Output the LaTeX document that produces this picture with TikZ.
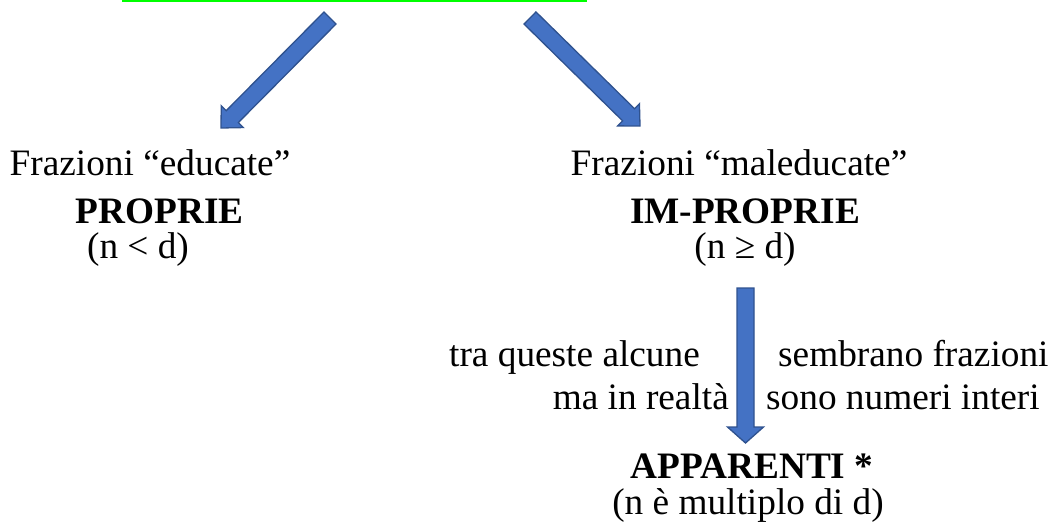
\documentclass[tikz,border=0pt]{standalone}
\usepackage{fontspec}
\setmainfont{Liberation Serif}
\usetikzlibrary{calc}
\definecolor{arrfill}{HTML}{4472C4}
\definecolor{arrline}{HTML}{2F528F}
\definecolor{hlgreen}{HTML}{00FF00}
\tikzset{
  txt/.style={anchor=base, inner sep=0pt, font=\fontsize{37.3}{44}\selectfont},
  btxt/.style={txt, font=\fontsize{37.3}{44}\selectfont\bfseries},
  fat/.style={fill=arrfill, draw=arrline, line width=1.3pt, line join=miter},
}
\newcommand\fatarrow[3]{%
  \coordinate (hb) at ($(#2)!16pt!(#1)$);
  \path[fat] ($(#1)!8.5pt!90:(#2)$) -- ($(hb)!8.5pt!90:(#2)$) -- ($(hb)!#3!90:(#2)$) -- (#2)
    -- ($(hb)!#3!-90:(#2)$) -- ($(hb)!8.5pt!-90:(#2)$) -- ($(#1)!8.5pt!-90:(#2)$) -- cycle;
}
\begin{document}
\begin{tikzpicture}[x=1pt,y=-1pt]
\useasboundingbox (0,0) rectangle (1057,523);
\fill[hlgreen] (122,0) rectangle (587,1.6);
\coordinate (s1) at (330,18);   \coordinate (t1) at (221,128);
\coordinate (s2) at (530,18);   \coordinate (t2) at (640,126);
\coordinate (s3) at (745.5,288); \coordinate (t3) at (745.5,443);
\fatarrow{s1}{t1}{15.5pt}
\fatarrow{s2}{t2}{15.5pt}
\fatarrow{s3}{t3}{18pt}
\node[txt] (l1) at (150,175) {Frazioni “educate”};
\node[btxt] (l2) at (159.5,223) {PROPRIE};
\node[txt] (l3) at (138,258) {(n < d)};
\node[txt] (r1) at (739,175) {Frazioni “maleducate”};
\node[btxt] (r2) at (745,223) {IM-PROPRIE};
\node[txt] (r3) at (745,258) {(n ≥ d)};
\node[txt, anchor=base east] (a1) at (700,366) {tra queste alcune};
\node[txt, anchor=base west] (b1) at (778,366) {sembrano frazioni};
\node[txt, anchor=base east] (a2) at (729,409) {ma in realtà};
\node[txt, anchor=base west] (b2) at (766,409) {sono numeri interi};
\node[btxt] (ap) at (752,478) {APPARENTI *};
\node[txt] (mu) at (748,514) {(n è multiplo di d)};
\end{tikzpicture}
\end{document}
